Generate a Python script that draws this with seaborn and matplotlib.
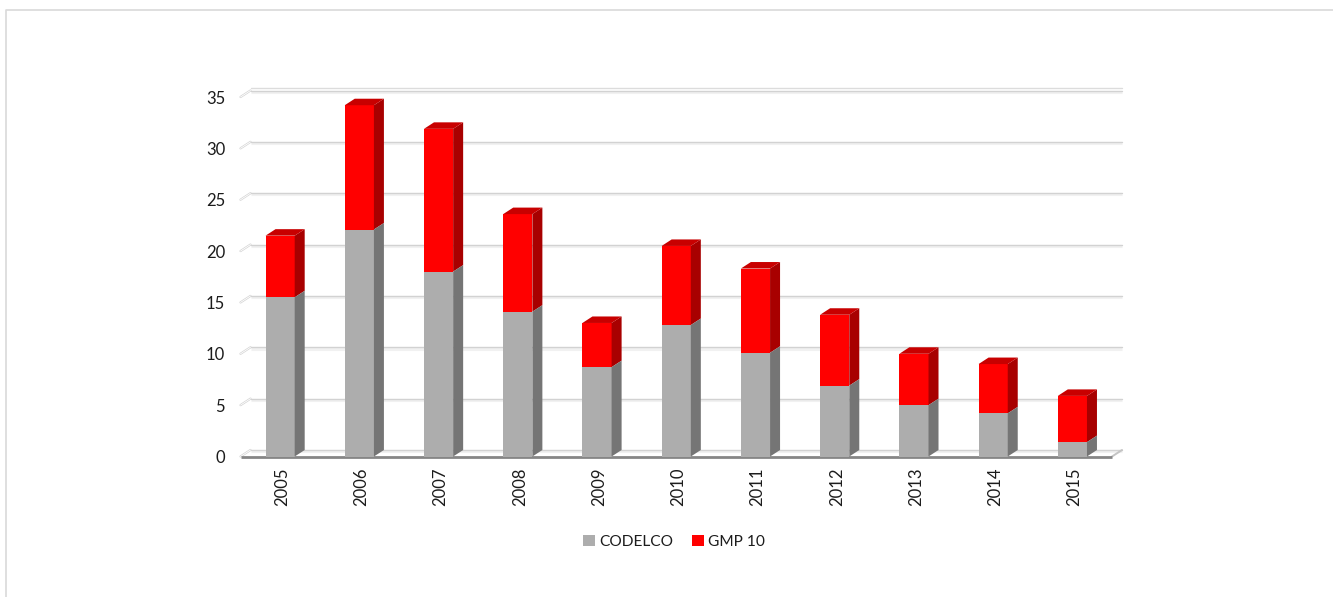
import matplotlib
matplotlib.use('Agg')
import matplotlib.pyplot as plt
from matplotlib.lines import Line2D
from matplotlib.patches import Polygon, Rectangle
from matplotlib.transforms import ScaledTranslation
import pandas as pd
import seaborn as sns

years = ['2005', '2006', '2007', '2008', '2009', '2010', '2011', '2012', '2013', '2014', '2015']
codelco = [15.5, 22.1, 18.0, 14.1, 8.7, 12.8, 10.1, 6.9, 5.0, 4.2, 1.4]
gmp10 = [6.0, 12.1, 13.9, 9.5, 4.3, 7.7, 8.2, 6.9, 5.0, 4.8, 4.5]
yticks = [0, 5, 10, 15, 20, 25, 30, 35]

W, H = 1333, 597
sns.set_theme(style='white')
plt.rcParams['font.family'] = ['Lato', 'DejaVu Sans']

df = pd.DataFrame({'year': years, 'codelco': codelco, 'gmp10': gmp10})

fig = plt.figure(figsize=(W / 100, H / 100), dpi=100)
# plot area in pixels, same as the front plane of the 3d chart
left, right, top, bottom = 240.5, 1112, 97, 456.5
ax = fig.add_axes([left / W, 1 - bottom / H, (right - left) / W, (bottom - top) / H])

sns.barplot(data=df, x='year', y='codelco', color='#adadad', saturation=1, width=0.368, ax=ax, zorder=3.2,
            edgecolor='none', linewidth=0)
sns.barplot(data=df, x='year', y='gmp10', color='#ff0000', saturation=1, width=0.368, ax=ax, zorder=3,
            edgecolor='none', linewidth=0, bottom=df['codelco'])
ax.set_xlim(-0.5, 10.5)
ax.set_ylim(0, 35)

# depth of the fake 3d in data units
dx = 10 / ((right - left) / 11)
dy = 6.5 / ((bottom - top) / 35)


def add_side(bars, color, z):
    for b in bars:
        x1 = b.get_x() + b.get_width()
        y0 = b.get_y()
        y1 = y0 + b.get_height()
        ax.add_patch(Polygon([(x1, y0), (x1 + dx, y0 + dy), (x1 + dx, y1 + dy), (x1, y1)], closed=True,
                             fc=color, ec='none', zorder=z, clip_on=False))


def add_cap(bars, color, z):
    for b in bars:
        x0 = b.get_x()
        x1 = x0 + b.get_width()
        y1 = b.get_y() + b.get_height()
        ax.add_patch(Polygon([(x0, y1), (x0 + dx, y1 + dy), (x1 + dx, y1 + dy), (x1, y1)], closed=True,
                             fc=color, ec='none', zorder=z, clip_on=False))


add_side(ax.containers[0], '#757575', 3.2)
add_side(ax.containers[1], '#a80000', 3)
add_cap(ax.containers[1], '#c80000', 3)

# back wall lines, the slanted bits on the left and the floor
x0, x1 = -0.5, 10.5
for v in yticks:
    ax.plot([x0 + dx, x1 + dx], [v + dy - 0.12, v + dy - 0.12], color='#f1f1f1', lw=2.2, zorder=1,
            clip_on=False, solid_capstyle='butt')
    ax.plot([x0 + dx, x1 + dx], [v + dy, v + dy], color='#d2d2d2', lw=1, zorder=1.5, clip_on=False)
    ax.plot([x0, x0 + dx], [v, v + dy], color='#d4d4d4', lw=1.6, zorder=1, clip_on=False)
    ax.plot([x0, x0 + dx], [v, v + dy], color='white', lw=0.6, zorder=1.2, clip_on=False)
# top edge of the wall is doubled
ax.plot([x0 + dx, x1 + dx], [35 + dy + 0.28, 35 + dy + 0.28], color='#dcdcdc', lw=1, zorder=1.5, clip_on=False)
ax.plot([x1, x1 + dx], [0, dy], color='#c4c4c4', lw=1.4, zorder=1.5, clip_on=False)
ax.plot([x0, x1], [0, 0], color='#868686', lw=2, zorder=2, clip_on=False, solid_capstyle='butt')

sns.despine(ax=ax, left=True, bottom=True)
ax.patch.set_alpha(0)
ax.set_xlabel('')
ax.set_ylabel('')
ax.set_yticks(yticks)
ax.tick_params(axis='y', length=0, pad=11, labelsize=12, labelcolor='#1c1c1c')
ax.tick_params(axis='x', length=0, pad=8, labelsize=12, labelcolor='#1c1c1c', labelrotation=90)
shift = ScaledTranslation(2 / 100, 0, fig.dpi_scale_trans)
for lab in ax.get_xticklabels():
    lab.set_transform(lab.get_transform() + shift)

handles = [Rectangle((0, 0), 1, 1, fc='#adadad', ec='none'), Rectangle((0, 0), 1, 1, fc='#ff0000', ec='none')]
fig.legend(handles, ['CODELCO', 'GMP 10'], loc='center', bbox_to_anchor=(674 / W, 1 - 542 / H), ncols=2,
           frameon=False, fontsize=11.2, labelcolor='#1c1c1c', handlelength=0.74, handleheight=0.74,
           handletextpad=0.25, columnspacing=1.25, borderpad=0)

# page frame of the slide
fig.add_artist(Line2D([6 / W, 6 / W, 1], [0, 1 - 10 / H, 1 - 10 / H], color='#d9d9d9', lw=1.2))

fig.savefig('out.png', dpi=100)
